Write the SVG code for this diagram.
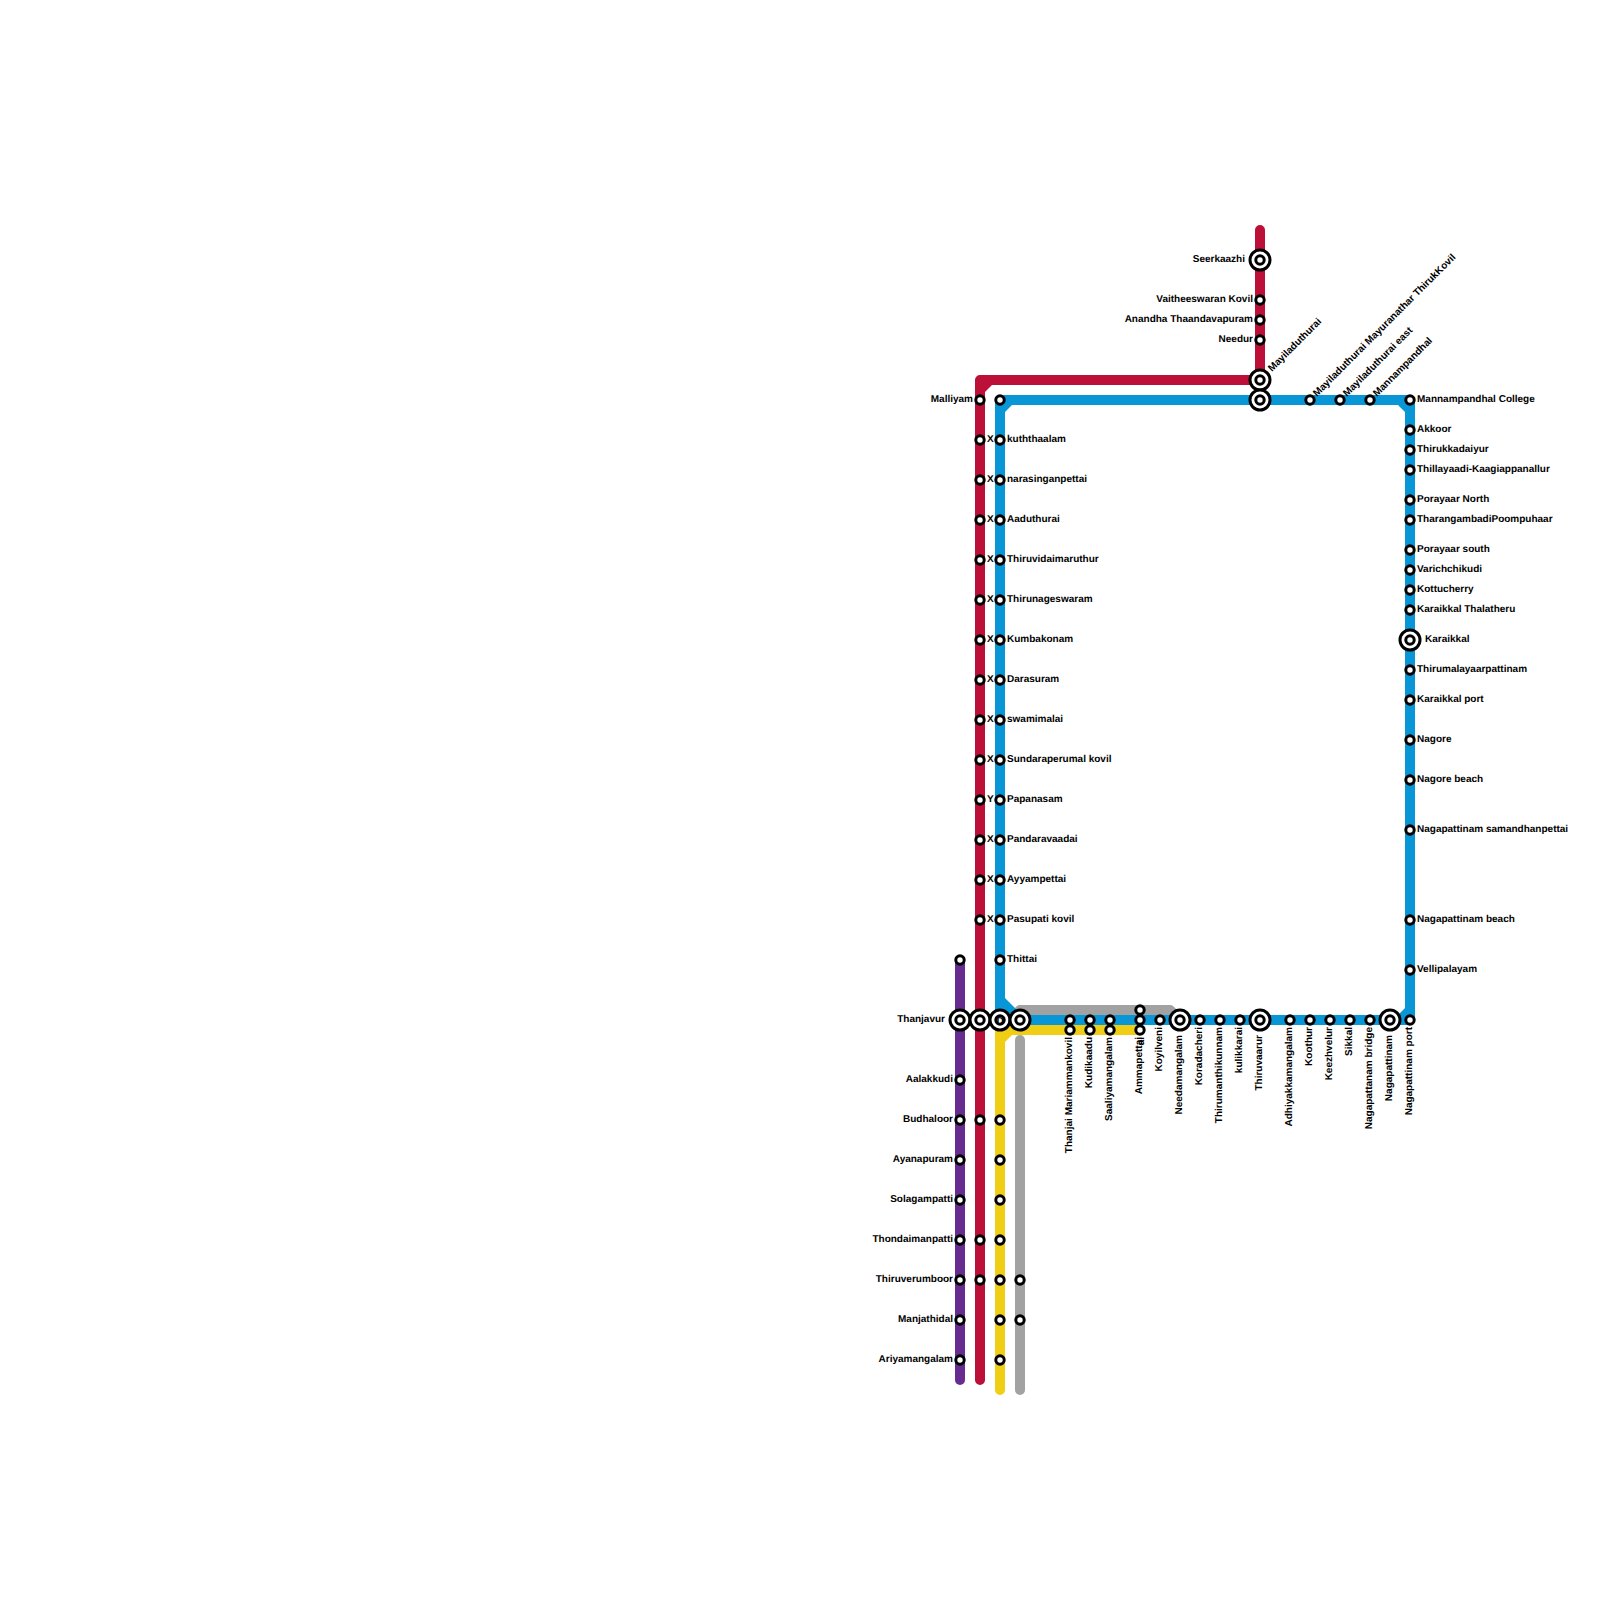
<svg xmlns="http://www.w3.org/2000/svg" width="1600" height="1600" viewBox="0 0 1600 1600">
<style>
.l{fill:none;stroke-width:10;stroke-linecap:round;stroke-linejoin:round}
text{font-family:"Liberation Sans",Arial,sans-serif;font-size:10px;font-weight:700;fill:#000;text-rendering:geometricPrecision}
.e{text-anchor:end}
</style>
<defs>
<g id="st"><circle r="4.2" fill="#fff" stroke="#000" stroke-width="3"/></g>
<g id="ic"><circle r="10" fill="#fff" stroke="#000" stroke-width="3"/><circle r="4.2" fill="#fff" stroke="#000" stroke-width="3"/></g>
</defs>
<rect width="1600" height="1600" fill="#fff"/>
<g id="connectors">
<path class="l" stroke="#a2a2a2" d="M1010 1020L1020 1010H1170L1180 1020"/>
<path class="l" stroke="#a2a2a2" d="M1020 1040V1390"/>
<path class="l" stroke="#f0ce15" d="M1000 1390V1030H1140"/>
<path fill="#f0ce15" d="M1005 1042V1035H1012Z"/>
<path class="l" stroke="#662c90" d="M960 960V1380"/>
<path class="l" stroke="#bd1038" d="M980 1380V380H1260M1260 380V230"/>
<path fill="#bd1038" d="M985 392V385H992Z"/>
<path class="l" stroke="#0896d7" d="M1000 1020V400H1410V1020H1000"/>
<path fill="#0896d7" d="M1005 412V405H1012ZM1398 405H1405V412ZM1405 1008V1015H1398ZM1005 998V1015H1022Z"/>
</g>
<g id="stations">
<use href="#st" x="960" y="960"/>
<use href="#st" x="960" y="1080"/><use href="#st" x="960" y="1120"/><use href="#st" x="960" y="1160"/><use href="#st" x="960" y="1200"/><use href="#st" x="960" y="1240"/><use href="#st" x="960" y="1280"/><use href="#st" x="960" y="1320"/><use href="#st" x="960" y="1360"/>
<use href="#st" x="980" y="400"/><use href="#st" x="980" y="440"/><use href="#st" x="980" y="480"/><use href="#st" x="980" y="520"/><use href="#st" x="980" y="560"/><use href="#st" x="980" y="600"/><use href="#st" x="980" y="640"/><use href="#st" x="980" y="680"/><use href="#st" x="980" y="720"/><use href="#st" x="980" y="760"/><use href="#st" x="980" y="800"/><use href="#st" x="980" y="840"/><use href="#st" x="980" y="880"/><use href="#st" x="980" y="920"/>
<use href="#st" x="980" y="1120"/><use href="#st" x="980" y="1240"/><use href="#st" x="980" y="1280"/>
<use href="#st" x="1000" y="400"/><use href="#st" x="1000" y="440"/><use href="#st" x="1000" y="480"/><use href="#st" x="1000" y="520"/><use href="#st" x="1000" y="560"/><use href="#st" x="1000" y="600"/><use href="#st" x="1000" y="640"/><use href="#st" x="1000" y="680"/><use href="#st" x="1000" y="720"/><use href="#st" x="1000" y="760"/><use href="#st" x="1000" y="800"/><use href="#st" x="1000" y="840"/><use href="#st" x="1000" y="880"/><use href="#st" x="1000" y="920"/><use href="#st" x="1000" y="960"/>
<use href="#st" x="1000" y="1120"/><use href="#st" x="1000" y="1160"/><use href="#st" x="1000" y="1200"/><use href="#st" x="1000" y="1240"/><use href="#st" x="1000" y="1280"/><use href="#st" x="1000" y="1320"/><use href="#st" x="1000" y="1360"/>
<use href="#st" x="1020" y="1280"/><use href="#st" x="1020" y="1320"/>
<use href="#st" x="1070" y="1020"/><use href="#st" x="1070" y="1030"/><use href="#st" x="1090" y="1020"/><use href="#st" x="1090" y="1030"/><use href="#st" x="1110" y="1020"/><use href="#st" x="1110" y="1030"/>
<use href="#st" x="1140" y="1010"/><use href="#st" x="1140" y="1020"/><use href="#st" x="1140" y="1030"/><use href="#st" x="1160" y="1020"/>
<use href="#st" x="1200" y="1020"/><use href="#st" x="1220" y="1020"/><use href="#st" x="1240" y="1020"/><use href="#st" x="1290" y="1020"/><use href="#st" x="1310" y="1020"/><use href="#st" x="1330" y="1020"/><use href="#st" x="1350" y="1020"/><use href="#st" x="1370" y="1020"/><use href="#st" x="1410" y="1020"/>
<use href="#st" x="1260" y="300"/><use href="#st" x="1260" y="320"/><use href="#st" x="1260" y="340"/>
<use href="#st" x="1310" y="400"/><use href="#st" x="1340" y="400"/><use href="#st" x="1370" y="400"/>
<use href="#st" x="1410" y="400"/><use href="#st" x="1410" y="430"/><use href="#st" x="1410" y="450"/><use href="#st" x="1410" y="470"/><use href="#st" x="1410" y="500"/><use href="#st" x="1410" y="520"/><use href="#st" x="1410" y="550"/><use href="#st" x="1410" y="570"/><use href="#st" x="1410" y="590"/><use href="#st" x="1410" y="610"/><use href="#st" x="1410" y="670"/><use href="#st" x="1410" y="700"/><use href="#st" x="1410" y="740"/><use href="#st" x="1410" y="780"/><use href="#st" x="1410" y="830"/><use href="#st" x="1410" y="920"/><use href="#st" x="1410" y="970"/>
<use href="#ic" x="960" y="1020"/><use href="#ic" x="980" y="1020"/><use href="#ic" x="1000" y="1020"/><use href="#ic" x="1020" y="1020"/><use href="#ic" x="1180" y="1020"/><use href="#ic" x="1260" y="1020"/><use href="#ic" x="1390" y="1020"/><use href="#ic" x="1260" y="260"/><use href="#ic" x="1260" y="380"/><use href="#ic" x="1260" y="400"/><use href="#ic" x="1410" y="640"/>
</g>
<g id="labels-left" transform="translate(0 -1)">
<text class="e" x="973" y="402.5">Malliyam</text>
<text class="e" x="945" y="1022.5">Thanjavur</text>
<text class="e" x="953" y="1082.5">Aalakkudi</text><text class="e" x="953" y="1122.5">Budhaloor</text><text class="e" x="953" y="1162.5">Ayanapuram</text><text class="e" x="953" y="1202.5">Solagampatti</text><text class="e" x="953" y="1242.5">Thondaimanpatti</text><text class="e" x="953" y="1282.5">Thiruverumboor</text><text class="e" x="953" y="1322.5">Manjathidal</text><text class="e" x="953" y="1362.5">Ariyamangalam</text>
<text class="e" x="1245" y="262.5">Seerkaazhi</text><text class="e" x="1253" y="302.5">Vaitheeswaran Kovil</text><text class="e" x="1253" y="322.5">Anandha Thaandavapuram</text><text class="e" x="1253" y="342.5">Needur</text>
</g>
<g id="labels-mid" transform="translate(0 -1)">
<text x="987" y="442.5">X</text><text x="987" y="482.5">X</text><text x="987" y="522.5">X</text><text x="987" y="562.5">X</text><text x="987" y="602.5">X</text><text x="987" y="642.5">X</text><text x="987" y="682.5">X</text><text x="987" y="722.5">X</text><text x="987" y="762.5">X</text><text x="987" y="802.5">Y</text><text x="987" y="842.5">X</text><text x="987" y="882.5">X</text><text x="987" y="922.5">X</text>
<text x="1007" y="442.5">kuththaalam</text><text x="1007" y="482.5">narasinganpettai</text><text x="1007" y="522.5">Aaduthurai</text><text x="1007" y="562.5">Thiruvidaimaruthur</text><text x="1007" y="602.5">Thirunageswaram</text><text x="1007" y="642.5">Kumbakonam</text><text x="1007" y="682.5">Darasuram</text><text x="1007" y="722.5">swamimalai</text><text x="1007" y="762.5">Sundaraperumal kovil</text><text x="1007" y="802.5">Papanasam</text><text x="1007" y="842.5">Pandaravaadai</text><text x="1007" y="882.5">Ayyampettai</text><text x="1007" y="922.5">Pasupati kovil</text><text x="1007" y="962.5">Thittai</text>
</g>
<g id="labels-right" transform="translate(0 -1)">
<text x="1417" y="402.5">Mannampandhal College</text><text x="1417" y="432.5">Akkoor</text><text x="1417" y="452.5">Thirukkadaiyur</text><text x="1417" y="472.5">Thillayaadi-Kaagiappanallur</text><text x="1417" y="502.5">Porayaar North</text><text x="1417" y="522.5">TharangambadiPoompuhaar</text><text x="1417" y="552.5">Porayaar south</text><text x="1417" y="572.5">Varichchikudi</text><text x="1417" y="592.5">Kottucherry</text><text x="1417" y="612.5">Karaikkal Thalatheru</text><text x="1425" y="642.5">Karaikkal</text><text x="1417" y="672.5">Thirumalayaarpattinam</text><text x="1417" y="702.5">Karaikkal port</text><text x="1417" y="742.5">Nagore</text><text x="1417" y="782.5">Nagore beach</text><text x="1417" y="832.5">Nagapattinam samandhanpettai</text><text x="1417" y="922.5">Nagapattinam beach</text><text x="1417" y="972.5">Vellipalayam</text>
</g>
<g id="labels-top">
<text transform="translate(1272 372) rotate(-45)">Mayiladuthurai</text>
<text transform="translate(1317 397) rotate(-45)">Mayiladuthurai Mayuranathar ThirukKovil</text>
<text transform="translate(1347 397) rotate(-45)">Mayiladuthurai east</text>
<text transform="translate(1377 397) rotate(-45)">Mannampandhal</text>
</g>
<g id="labels-bottom" transform="translate(-1 0)">
<text class="e" transform="translate(1073 1037) rotate(-90)">Thanjai Mariammankovil</text>
<text class="e" transform="translate(1093 1037) rotate(-90)">Kudikaadu</text>
<text class="e" transform="translate(1113 1037) rotate(-90)">Saaliyamangalam</text>
<text class="e" transform="translate(1143 1037) rotate(-90)">Ammapettai</text>
<text class="e" transform="translate(1145 1037) rotate(-90)">ai</text>
<text class="e" transform="translate(1163 1027) rotate(-90)">Koyilveni</text>
<text class="e" transform="translate(1183 1035) rotate(-90)">Needamangalam</text>
<text class="e" transform="translate(1203 1027) rotate(-90)">Koradacheri</text>
<text class="e" transform="translate(1223 1027) rotate(-90)">Thirumanthikunnam</text>
<text class="e" transform="translate(1243 1027) rotate(-90)">kulikkarai</text>
<text class="e" transform="translate(1263 1035) rotate(-90)">Thiruvaarur</text>
<text class="e" transform="translate(1293 1027) rotate(-90)">Adhiyakkamangalam</text>
<text class="e" transform="translate(1313 1027) rotate(-90)">Koothur</text>
<text class="e" transform="translate(1333 1027) rotate(-90)">Keezhvelur</text>
<text class="e" transform="translate(1353 1027) rotate(-90)">Sikkal</text>
<text class="e" transform="translate(1373 1027) rotate(-90)">Nagapattanam bridge</text>
<text class="e" transform="translate(1393 1035) rotate(-90)">Nagapattinam</text>
<text class="e" transform="translate(1413 1027) rotate(-90)">Nagapattinam port</text>
</g>
<text id="label-hub" x="996.5" y="1023.5">D</text>
</svg>
